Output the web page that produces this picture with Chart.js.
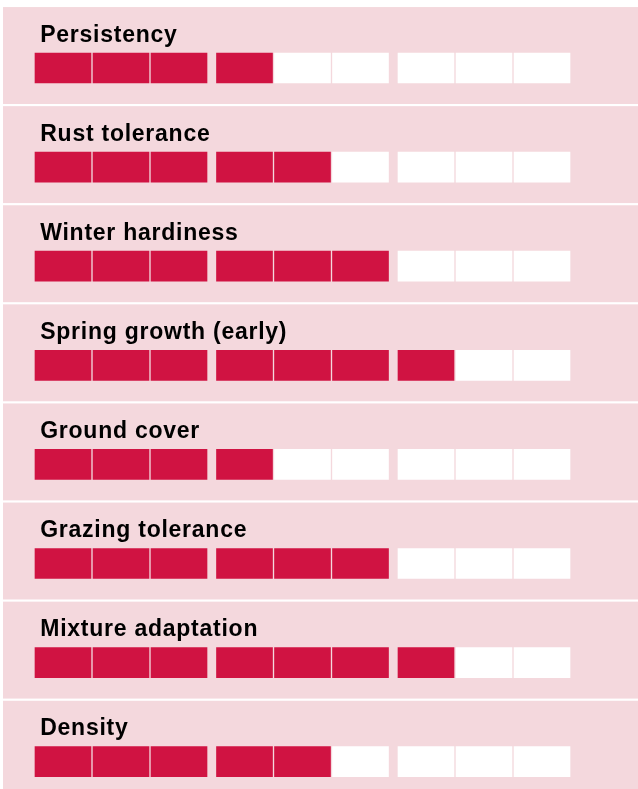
<!DOCTYPE html>
<html lang="en">
<head>
<meta charset="utf-8">
<title>Variety ratings</title>
<script src="https://cdn.jsdelivr.net/npm/chart.js@4.4.1/dist/chart.umd.min.js"></script>
<style>
  html, body { margin: 0; padding: 0; background: #ffffff; }
  #ratingChart { display: block; }
</style>
</head>
<body>
<canvas id="ratingChart" width="638" height="789"></canvas>
<script>
const categories = [
  "Persistency",
  "Rust tolerance",
  "Winter hardiness",
  "Spring growth (early)",
  "Ground cover",
  "Grazing tolerance",
  "Mixture adaptation",
  "Density"
];
const scores = [4, 5, 6, 7, 4, 6, 7, 5];
const maxScore = 9;
const groupSize = 3;

(function () {
  const colors = {
    band: "#f4d8dd",
    filled: "#d01342",
    empty: "#ffffff",
    text: "#000000"
  };

  // segment layout in "segment" units: 1 unit = one block + its thin gap
  const segWidth = 56 / 58;
  const groupGap = 7.5 / 58;
  const segStart = (i) => i + Math.floor(i / groupSize) * groupGap;

  const datasets = [];
  for (let i = 0; i < maxScore; i++) {
    datasets.push({
      label: "segment " + (i + 1),
      data: categories.map((c, k) => ({ x: [segStart(i), segStart(i) + segWidth], y: k })),
      backgroundColor: scores.map((s) => (i < s ? colors.filled : colors.empty)),
      borderWidth: 0,
      borderSkipped: false,
      barThickness: 30,
      grouped: false
    });
  }

  const bandsAndLabels = {
    id: "bandsAndLabels",
    beforeDatasetsDraw(chart) {
      const { ctx, chartArea, scales } = chart;
      ctx.save();
      ctx.fillStyle = colors.band;
      categories.forEach((c, k) => {
        const top = scales.y.getPixelForValue(k - 0.615);
        const bottom = scales.y.getPixelForValue(k + 0.363);
        const left = scales.x.getPixelForValue(-0.552);
        ctx.fillRect(left, top, chartArea.right - left, bottom - top);
      });
      ctx.restore();
    },
    afterDatasetsDraw(chart) {
      const { ctx, scales } = chart;
      ctx.save();
      ctx.fillStyle = colors.text;
      ctx.font = "bold 23px 'Liberation Sans', Arial, Helvetica, sans-serif";
      ctx.textBaseline = "alphabetic";
      ctx.textAlign = "left";
      if ("letterSpacing" in ctx) ctx.letterSpacing = "0.75px";
      categories.forEach((c, k) => {
        const y = scales.y.getPixelForValue(k) - 26.5;
        ctx.fillText(c, scales.x.getPixelForValue(0.09), y);
      });
      ctx.restore();
    }
  };

  const rowPitch = 99.1;
  const yMin = -68 / rowPitch;
  const xMin = -35 / 58;

  new Chart(document.getElementById("ratingChart"), {
    type: "bar",
    data: { datasets },
    options: {
      indexAxis: "y",
      responsive: false,
      animation: false,
      devicePixelRatio: 1,
      layout: { padding: 0 },
      plugins: { legend: { display: false }, tooltip: { enabled: false } },
      scales: {
        x: { type: "linear", min: xMin, max: xMin + 638 / 58, offset: false, display: false },
        y: {
          type: "linear",
          reverse: true,
          offset: false,
          min: yMin,
          max: yMin + 789 / rowPitch,
          display: false
        }
      }
    },
    plugins: [bandsAndLabels]
  });
})();
</script>
</body>
</html>
